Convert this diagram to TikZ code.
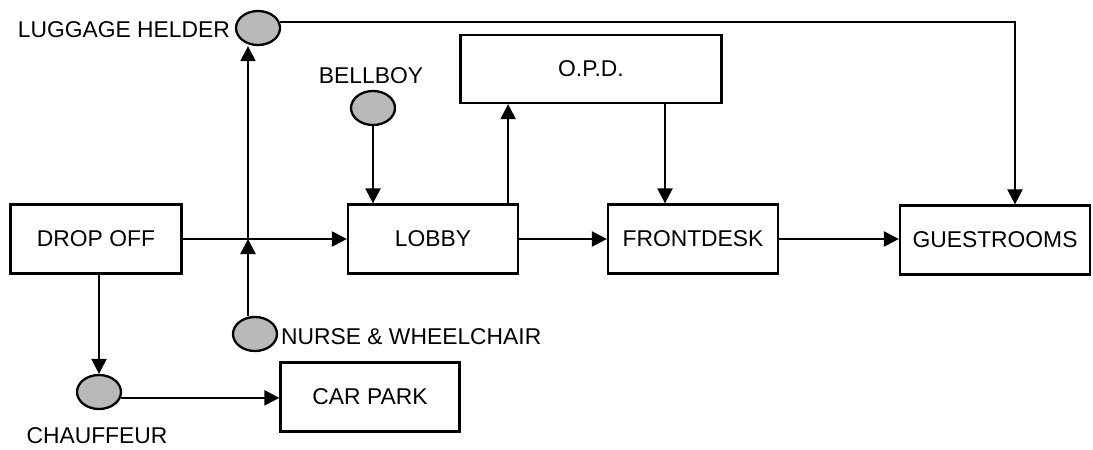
\documentclass[tikz,border=0pt]{standalone}
\usepackage{fontspec}
\setmainfont{Liberation Sans}
\usetikzlibrary{positioning,arrows.meta,shapes.geometric}

\begin{document}
\begin{tikzpicture}[x=0.02cm, y=-0.02cm, font=\fontsize{13}{15}\selectfont,
  line width=1.3pt,
  area/.style={draw, rectangle, minimum height=1.38cm, inner sep=0pt},
  staff/.style={draw, ellipse, fill=gray!55, minimum width=0.88cm, minimum height=0.68cm, inner sep=0pt},
  tag/.style={inner sep=0pt},
  flow/.style={-{Triangle[length=0.3cm,width=0.3cm]}}]
  \useasboundingbox (0,0) rectangle (1093,450);
  % areas
  \node[area, minimum width=3.42cm] (dropoff) at (96,239) {DROP OFF};
  \node[area, minimum width=3.4cm] (lobby) at (433,239) {LOBBY};
  \node[area, minimum width=3.4cm] (frontdesk) at (693,239) {FRONTDESK};
  \node[area, minimum width=3.8cm] (guestrooms) at (995,240) {GUESTROOMS};
  \node[area, minimum width=5.22cm, minimum height=1.36cm] (opd) at (591,69) {O.P.D.};
  \node[area, minimum width=3.58cm] (carpark) at (370,397) {CAR PARK};
  % staff
  \node[staff] (luggage) at (258,28) {};
  \node[staff] (bellboy) at (373,108) {};
  \node[staff] (nurse) at (255,334) {};
  \node[staff] (chauffeur) at (99,392) {};
  \node[tag, anchor=east] (luggagetxt) at (231,30) {LUGGAGE HELDER};
  \node[tag] (bellboytxt) at (371,76) {BELLBOY};
  \node[tag, anchor=west] (nursetxt) at (280,337) {NURSE \& WHEELCHAIR};
  \node[tag] (chauffeurtxt) at (97,436) {CHAUFFEUR};
  \coordinate (cross) at (248,239);
  % flows
  \draw[flow] (dropoff) -- (lobby);
  \draw[flow] (lobby) -- (frontdesk);
  \draw[flow] (frontdesk.east) -- (frontdesk.east -| guestrooms.west);
  \draw[flow] (nurse.north -| cross) -- (cross);
  \draw[flow] (cross) -- (cross |- luggage.south);
  \draw[flow] (luggage.15) -| ([xshift=0.4cm]guestrooms.north);
  \draw[flow] (bellboy.south) -- (bellboy.south |- lobby.north);
  \draw[flow] ([xshift=-0.22cm]lobby.north east) -- ([xshift=-0.22cm]lobby.north east |- opd.south);
  \draw[flow] ([xshift=-0.56cm]frontdesk.north |- opd.south) -- ([xshift=-0.56cm]frontdesk.north);
  \draw[flow] (chauffeur.north |- dropoff.south) -- (chauffeur.north);
  \draw[flow] (chauffeur.-15) -- (chauffeur.-15 -| carpark.west);
\end{tikzpicture}
\end{document}
